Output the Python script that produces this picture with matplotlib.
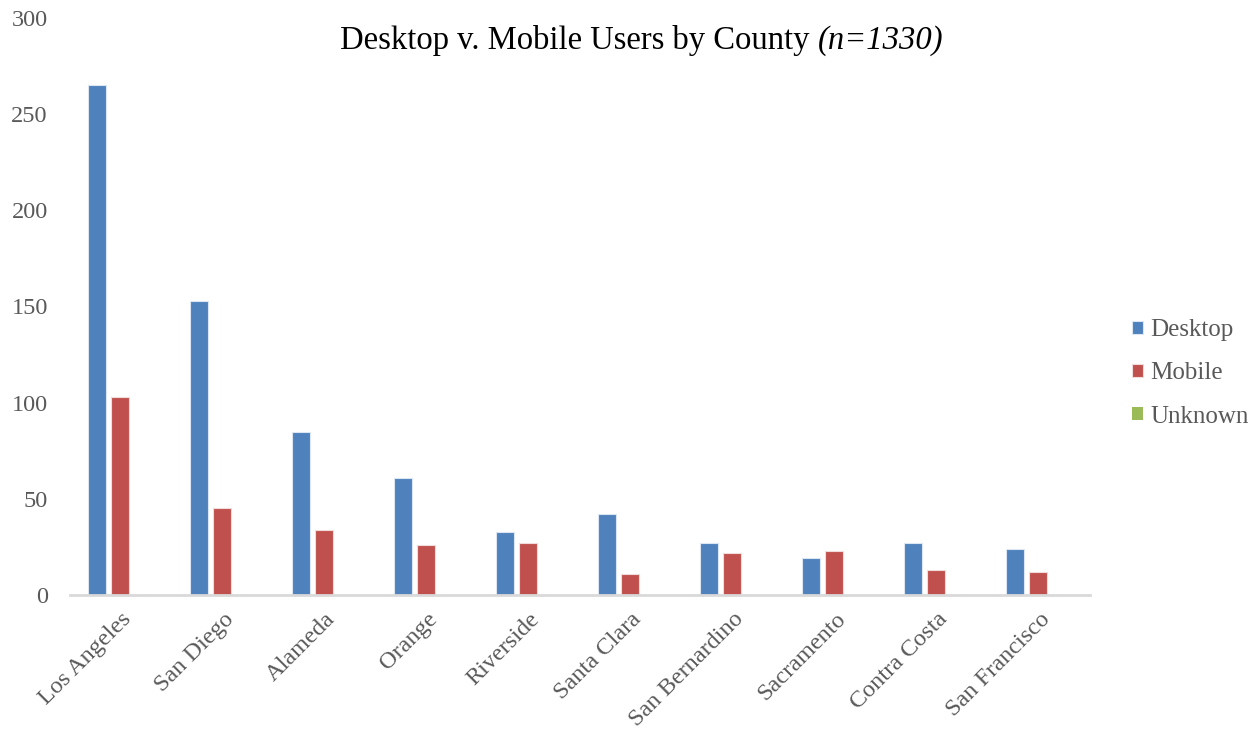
import matplotlib.pyplot as plt
import numpy as np

# Users by county, split by device type
counties = ["Los Angeles", "San Diego", "Alameda", "Orange", "Riverside",
            "Santa Clara", "San Bernardino", "Sacramento", "Contra Costa",
            "San Francisco"]
desktop = [265, 153, 85, 61, 33, 42, 27, 19, 27, 24]
mobile = [103, 45, 34, 26, 27, 11, 22, 23, 13, 12]
unknown = [0, 0, 0, 0, 0, 0, 0, 0, 0, 0]

blue = "#4F81BD"
red = "#C0504D"
green = "#9BBB59"
gray = "#595959"

plt.rcParams["font.family"] = ["Liberation Serif", "DejaVu Serif"]

fig = plt.figure(figsize=(12.58, 7.32), dpi=100)
ax = fig.add_axes([70 / 1258, 1 - 595 / 732, 1020 / 1258, (595 - 18) / 732])

x = np.arange(len(counties))
w = 0.18
ax.bar(x - 0.235, desktop, w, color=blue, edgecolor="#dce6f2", linewidth=0.8, label="Desktop")
ax.bar(x - 0.01, mobile, w, color=red, edgecolor="#f2dcdb", linewidth=0.8, label="Mobile")
ax.bar(x + 0.215, unknown, w, color=green, label="Unknown")

ax.set_xlim(-0.5, len(counties) - 0.5)
ax.set_ylim(0, 300)
ax.set_yticks(range(0, 301, 50))
for s in ["top", "right", "left"]:
    ax.spines[s].set_visible(False)
ax.spines["bottom"].set_color("#d9d9d9")
ax.spines["bottom"].set_linewidth(2)

ax.set_xticks(x)
ax.set_xticklabels(counties, rotation=45, ha="right", rotation_mode="anchor",
                   fontsize=17.5, color=gray)
ax.tick_params(axis="x", length=0, pad=10)
ax.tick_params(axis="y", length=0, pad=16, labelsize=17.5, labelcolor=gray)

fig.text(0.650, 0.945, "Desktop v. Mobile Users by County ", ha="right", va="center",
         fontsize=23.5, color="black")
fig.text(0.650, 0.945, "(n=1330)", ha="left", va="center", fontsize=23.5,
         style="italic", color="black")

leg = ax.legend(loc="center left", bbox_to_anchor=(1.041, 0.384), frameon=False,
                fontsize=18, handlelength=0.45, handleheight=0.45, handletextpad=0.3,
                labelspacing=0.85, borderpad=0, borderaxespad=0)
for t in leg.get_texts():
    t.set_color(gray)

fig.savefig("out.png", dpi=100, facecolor="white")
